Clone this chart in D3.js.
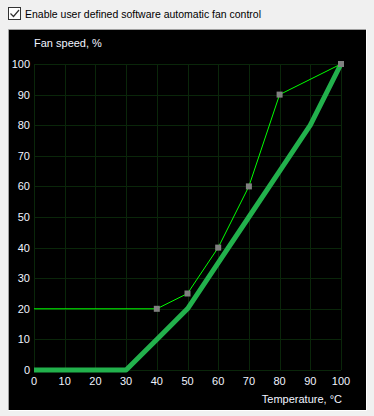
<!DOCTYPE html>
<meta charset="utf-8">
<head>
<script src="https://d3js.org/d3.v7.min.js"></script>
<style>
  body { margin: 0; background: #f0f0f0; }
</style>
</head>
<body>
<div id="fan_chart"></div>
<script>

  // fan curve set points (thin line) and resulting curve (thick line)
  var setTemps = [0, 40, 50, 60, 70, 80, 100];
  var setSpeeds = [20, 20, 25, 40, 60, 90, 100];
  var curveTemps = [0, 30, 40, 50, 60, 70, 80, 90, 100];
  var curveSpeeds = [0, 0, 10, 20, 35, 50, 65, 80, 100];
  var tickValues = [0, 10, 20, 30, 40, 50, 60, 70, 80, 90, 100];

  var W = 374, H = 416;

  var svg = d3.select("#fan_chart")
    .append("svg")
      .attr("width", W)
      .attr("height", H)
      .style("display", "block");

  // checkbox + caption
  svg.append("rect")
    .attr("x", 8.5).attr("y", 7.5).attr("width", 12).attr("height", 12)
    .style("fill", "white").style("stroke", "#333");
  svg.append("path")
    .attr("d", "M10.5,13.5 L13.5,16.5 L19,10")
    .style("fill", "none").style("stroke", "#333").style("stroke-width", 1.2);
  svg.append("text")
    .attr("x", 25).attr("y", 18)
    .text("Enable user defined software automatic fan control")
    .attr("font-family", "Liberation Sans, Arial, sans-serif")
    .attr("font-size", "11.5px")
    .attr("textLength", 236)
    .attr("lengthAdjust", "spacingAndGlyphs")
    .attr("fill", "black");

  // sunken black panel
  svg.append("rect")
    .attr("x", 9).attr("y", 30).attr("width", 357).attr("height", 380)
    .style("fill", "black");
  svg.append("path")
    .attr("d", "M8.5,410 L8.5,29.5 L366,29.5")
    .style("fill", "none").style("stroke", "#a0a0a0");
  svg.append("path")
    .attr("d", "M8.5,410.5 L366.5,410.5 L366.5,29.5")
    .style("fill", "none").style("stroke", "#ffffff");

  var x = d3.scaleLinear().domain([0, 100]).range([34, 341]);
  var y = d3.scaleLinear().domain([0, 100]).range([370, 64]);

  // grid
  svg.append("g").selectAll("line.v")
    .data(tickValues).enter().append("line")
      .attr("x1", function(d){ return Math.round(x(d)) + 0.5; })
      .attr("x2", function(d){ return Math.round(x(d)) + 0.5; })
      .attr("y1", y(100)).attr("y2", y(0))
      .style("stroke", "#0a260a");
  svg.append("g").selectAll("line.h")
    .data(tickValues).enter().append("line")
      .attr("y1", function(d){ return Math.round(y(d)) + 0.5; })
      .attr("y2", function(d){ return Math.round(y(d)) + 0.5; })
      .attr("x1", x(0)).attr("x2", x(100))
      .style("stroke", "#0a260a");

  // tick labels
  var tickFont = "Liberation Sans, Arial, sans-serif";
  svg.append("g").selectAll("text")
    .data(tickValues).enter().append("text")
      .attr("x", 30)
      .attr("y", function(d){ return y(d) + 4; })
      .attr("text-anchor", "end")
      .text(function(d){ return d; })
      .attr("font-family", tickFont)
      .attr("font-size", "11px")
      .attr("fill", "#f0f4ff");
  svg.append("g").selectAll("text")
    .data(tickValues).enter().append("text")
      .attr("x", function(d){ return x(d); })
      .attr("y", 385)
      .attr("text-anchor", "middle")
      .text(function(d){ return d; })
      .attr("font-family", tickFont)
      .attr("font-size", "11px")
      .attr("fill", "#f0f4ff");

  svg.append("text")
    .attr("x", 34).attr("y", 47)
    .text("Fan speed, %")
    .attr("font-family", tickFont)
    .attr("font-size", "11px")
    .attr("fill", "#f0f4ff");
  svg.append("text")
    .attr("x", 342).attr("y", 403)
    .attr("text-anchor", "end")
    .text("Temperature, °C")
    .attr("font-family", tickFont)
    .attr("font-size", "11px")
    .attr("fill", "#f0f4ff");

  var line = d3.line()
    .x(function(d){ return x(d[0]); })
    .y(function(d){ return y(d[1]); });

  // actual curve
  svg.append("path")
    .datum(d3.zip(curveTemps, curveSpeeds))
    .attr("d", line)
    .style("fill", "none")
    .style("stroke", "#22b14c")
    .style("stroke-width", 5)
    .style("stroke-linejoin", "round");

  // set points line
  svg.append("path")
    .datum(d3.zip(setTemps, setSpeeds))
    .attr("d", line)
    .style("fill", "none")
    .style("stroke", "#00ff00")
    .style("stroke-width", 1);

  // markers (not on the first point)
  svg.append("g").selectAll("rect")
    .data(d3.zip(setTemps, setSpeeds).slice(1))
    .enter().append("rect")
      .attr("x", function(d){ return x(d[0]) - 3; })
      .attr("y", function(d){ return y(d[1]) - 3; })
      .attr("width", 6).attr("height", 6)
      .style("fill", "#808080");

</script>
</body>
